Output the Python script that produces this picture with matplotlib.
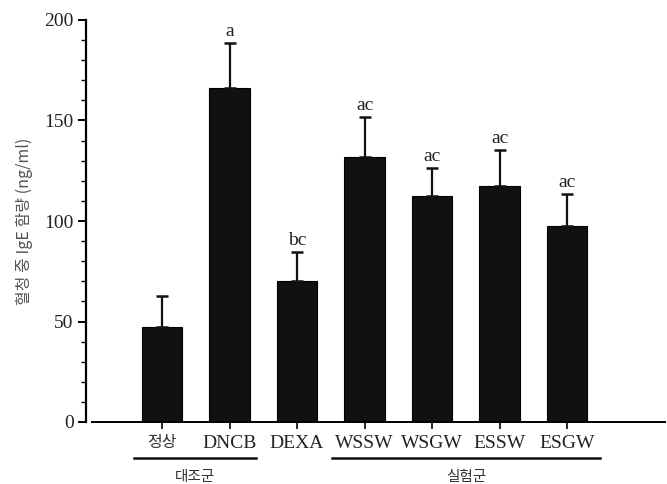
import matplotlib
matplotlib.use("Agg")
import matplotlib.pyplot as plt
from matplotlib.ticker import MultipleLocator
import matplotlib.transforms as mtransforms

# data
groups = ["정상", "DNCB", "DEXA", "WSSW", "WSGW", "ESSW", "ESGW"]
means = [47.3, 166.0, 70.2, 132.0, 112.4, 117.2, 97.3]
sds = [15.4, 22.5, 14.5, 19.8, 14.0, 18.2, 16.0]
letters = ["", "a", "bc", "ac", "ac", "ac", "ac"]
group_spans = [("대조군", -0.415, 1.39), ("실험군", 2.52, 6.49)]

serif = ["Liberation Serif", "DejaVu Serif"]
kr = ["Noto Sans CJK KR", "DejaVu Sans"]

fig = plt.figure(figsize=(6.67, 4.84), dpi=100)
ax = fig.add_axes([86 / 667, 62 / 484, (665 - 86) / 667, 402 / 484])

x = list(range(len(groups)))
ax.bar(x, means, width=0.6, color="#111111", edgecolor="#000000", linewidth=0.8, zorder=2)
ax.errorbar(x, means, yerr=[[0] * len(sds), sds], fmt="none", ecolor="#111111",
            elinewidth=1.6, capsize=4.3, capthick=1.8, zorder=3)

for xi, m, s, lab in zip(x, means, sds, letters):
    if lab:
        ax.text(xi, m + s + 1.5, lab, ha="center", va="bottom", family=serif,
                fontsize=14, color="#222222")

ax.set_xlim(-1.126, 7.45)
ax.set_ylim(0, 200)
ax.yaxis.set_major_locator(MultipleLocator(50))
ax.yaxis.set_minor_locator(MultipleLocator(10))

for side in ["top", "right"]:
    ax.spines[side].set_visible(False)
ax.spines["left"].set_linewidth(1.6)
ax.spines["bottom"].set_linewidth(1.4)
ax.spines["bottom"].set_bounds(-1.037, 7.45)

ax.tick_params(axis="y", which="major", length=6, width=1.4, direction="out", pad=3)
ax.tick_params(axis="y", which="minor", length=3.5, width=1.0, direction="out")
ax.tick_params(axis="x", length=5, width=1.2, direction="out", pad=4)

ax.set_xticks(x)
ax.set_xticklabels(groups)
for i, t in enumerate(ax.get_xticklabels()):
    if i == 0:
        t.set_family(kr)
        t.set_fontsize(11.5)
        t.set_color("#333333")
    else:
        t.set_family(serif)
        t.set_fontsize(14)
        t.set_color("#222222")
for t in ax.get_yticklabels():
    t.set_family(serif)
    t.set_fontsize(14)
    t.set_color("#222222")

ax.set_ylabel("혈청 중 IgE 함량 (ng/ml)", family=kr, fontsize=11.5, color="#555555",
              labelpad=8)

# group brackets under the x labels
trans = mtransforms.blended_transform_factory(ax.transData, ax.transAxes)
for name, x0, x1 in group_spans:
    ax.plot([x0, x1], [-0.09, -0.09], color="#111111", lw=1.8, transform=trans,
            clip_on=False)
    ax.text((x0 + x1) / 2, -0.137, name, transform=trans, ha="center", va="center",
            family=kr, fontsize=10.5, color="#333333")

fig.savefig("out.png", dpi=100)
